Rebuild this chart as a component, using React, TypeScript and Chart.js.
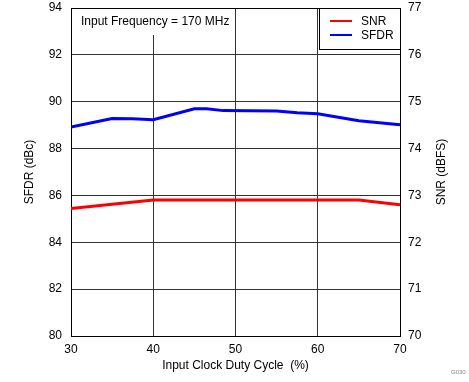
import React, { useEffect, useRef } from "react";
import { Chart, registerables } from "chart.js";

Chart.register(...registerables);

const sfdrX = [30, 35, 37.5, 40, 45, 46.5, 48.5, 55, 57.5, 60, 65, 70];
const sfdrY = [88.92, 89.28, 89.27, 89.23, 89.7, 89.7, 89.62, 89.6, 89.53, 89.49, 89.19, 89.02];
const snrX = [30, 35, 40, 45, 50, 55, 60, 65, 70];
const snrY = [72.72, 72.81, 72.9, 72.9, 72.9, 72.9, 72.9, 72.9, 72.8];

const xTicks = [30, 40, 50, 60, 70];
const leftTicks = [80, 82, 84, 86, 88, 90, 92, 94];
const rightTicks = [70, 71, 72, 73, 74, 75, 76, 77];

const FONT = "'Liberation Sans', Arial, sans-serif";

const overlayPlugin = {
  id: "overlay",
  beforeDatasetsDraw(chart: any) {
    const { ctx, chartArea } = chart;
    const { left, top, right, bottom } = chartArea;
    ctx.save();
    // annotation white box
    ctx.fillStyle = "#ffffff";
    ctx.fillRect(left + 1, top + 1, 160, 26);
    ctx.fillStyle = "#000000";
    ctx.font = `12px ${FONT}`;
    ctx.textBaseline = "middle";
    ctx.textAlign = "left";
    ctx.fillText("Input Frequency = 170 MHz", left + 10, top + 14);
    // frame
    ctx.strokeStyle = "#000000";
    ctx.lineWidth = 1;
    ctx.strokeRect(left + 0.5, top + 0.5, right - left, bottom - top);
    ctx.restore();
  },
  afterDraw(chart: any) {
    const { ctx, chartArea } = chart;
    const { top, right, bottom } = chartArea;
    ctx.save();
    // legend box
    const bx = right - 81;
    const by = top;
    ctx.fillStyle = "#ffffff";
    ctx.fillRect(bx, by, 81, 41);
    ctx.strokeStyle = "#000000";
    ctx.lineWidth = 1;
    ctx.strokeRect(bx + 0.5, by + 0.5, 81, 41);
    const items = [
      { label: "SNR", color: "#ff0000", y: by + 13 },
      { label: "SFDR", color: "#0000ff", y: by + 27 },
    ];
    ctx.font = `12px ${FONT}`;
    ctx.textBaseline = "middle";
    ctx.textAlign = "left";
    for (const it of items) {
      ctx.strokeStyle = it.color;
      ctx.lineWidth = 2;
      ctx.beginPath();
      ctx.moveTo(bx + 11, it.y);
      ctx.lineTo(bx + 33, it.y);
      ctx.stroke();
      ctx.fillStyle = "#000000";
      ctx.fillText(it.label, bx + 42, it.y + 1);
    }
    // right axis title (reads bottom to top)
    ctx.save();
    ctx.translate(442, (top + bottom) / 2);
    ctx.rotate(-Math.PI / 2);
    ctx.textAlign = "center";
    ctx.textBaseline = "middle";
    ctx.fillStyle = "#000000";
    ctx.font = `12px ${FONT}`;
    ctx.fillText("SNR (dBFS)", 0, 0);
    ctx.restore();
    // figure id
    ctx.fillStyle = "#888888";
    ctx.font = `6px ${FONT}`;
    ctx.textAlign = "left";
    ctx.textBaseline = "middle";
    ctx.fillText("G030", 451, 372);
    ctx.restore();
  },
};

export default function App() {
  const ref = useRef<HTMLCanvasElement | null>(null);
  useEffect(() => {
    if (!ref.current) return;
    const chart = new Chart(ref.current, {
      type: "line",
      data: {
        datasets: [
          {
            label: "SNR",
            data: snrX.map((x, i) => ({ x, y: snrY[i] })),
            borderColor: "#ff0000",
            borderWidth: 3,
            pointRadius: 0,
            yAxisID: "y1",
            tension: 0,
          },
          {
            label: "SFDR",
            data: sfdrX.map((x, i) => ({ x, y: sfdrY[i] })),
            borderColor: "#0000ff",
            borderWidth: 3,
            pointRadius: 0,
            yAxisID: "y",
            tension: 0,
          },
        ],
      },
      options: {
        responsive: false,
        devicePixelRatio: 1,
        animation: false,
        layout: { padding: { top: 8, left: 0, right: 0, bottom: 0 } },
        plugins: { legend: { display: false }, tooltip: { enabled: false } },
        scales: {
          x: {
            type: "linear",
            min: 30,
            max: 70,
            afterBuildTicks: (s: any) => {
              s.ticks = xTicks.map((v) => ({ value: v }));
            },
            afterFit: (s: any) => {
              s.height = 46;
              s.paddingLeft = 0;
              s.paddingRight = 0;
            },
            grid: { color: "#333333", drawTicks: false, lineWidth: 1 },
            border: { display: false },
            ticks: {
              padding: 6,
              color: "#000000",
              font: { family: FONT, size: 12 },
              maxRotation: 0,
            },
            title: {
              display: true,
              text: "Input Clock Duty Cycle  (%)",
              color: "#000000",
              font: { family: FONT, size: 12 },
              padding: { top: 0, bottom: 9 },
            },
          },
          y: {
            position: "left",
            min: 80,
            max: 94,
            afterBuildTicks: (s: any) => {
              s.ticks = leftTicks.map((v) => ({ value: v }));
            },
            afterFit: (s: any) => {
              s.width = 71;
              s.paddingTop = 0;
              s.paddingBottom = 0;
            },
            grid: { color: "#333333", drawTicks: false, lineWidth: 1 },
            border: { display: false },
            ticks: {
              padding: 9,
              color: "#000000",
              font: { family: FONT, size: 12 },
            },
            title: {
              display: true,
              text: "SFDR (dBc)",
              color: "#000000",
              font: { family: FONT, size: 12 },
              padding: { top: 22, bottom: 0 },
            },
          },
          y1: {
            position: "right",
            min: 70,
            max: 77,
            afterBuildTicks: (s: any) => {
              s.ticks = rightTicks.map((v) => ({ value: v }));
            },
            afterFit: (s: any) => {
              s.width = 69;
              s.paddingTop = 0;
              s.paddingBottom = 0;
            },
            grid: { display: false, drawTicks: false },
            border: { display: false },
            ticks: {
              padding: 8,
              color: "#000000",
              font: { family: FONT, size: 12 },
            },
          },
        },
      },
      plugins: [overlayPlugin],
    });
    return () => chart.destroy();
  }, []);
  return (
    <div style={{ position: "absolute", left: 0, top: 0, width: 469, height: 382, background: "#ffffff" }}>
      <canvas ref={ref} width={469} height={382} style={{ display: "block" }} />
    </div>
  );
}
